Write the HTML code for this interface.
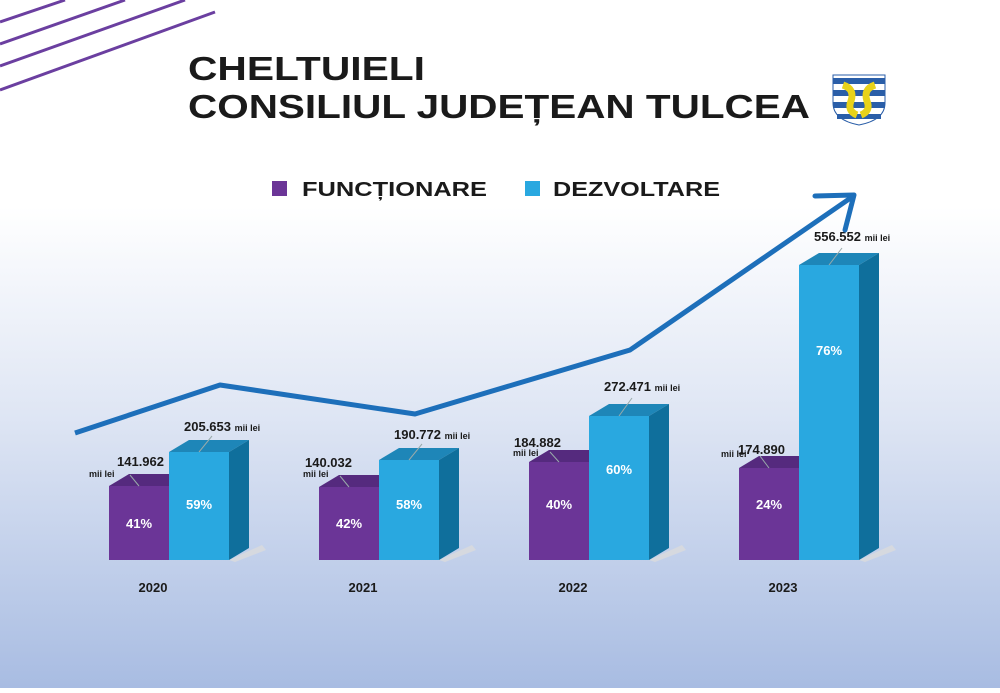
<!DOCTYPE html>
<html><head><meta charset="utf-8"><style>
body{margin:0;width:1000px;height:688px;overflow:hidden;font-family:"Liberation Sans","DejaVu Sans",sans-serif}
</style></head><body>
<svg width="1000" height="688" viewBox="0 0 1000 688" xmlns="http://www.w3.org/2000/svg" font-family="Liberation Sans, DejaVu Sans, sans-serif">
<defs>
<linearGradient id="bg" x1="0" y1="0" x2="0" y2="1">
<stop offset="0" stop-color="#ffffff"/><stop offset="0.3" stop-color="#ffffff"/>
<stop offset="0.6" stop-color="#dfe6f4"/><stop offset="1" stop-color="#a8bce2"/>
</linearGradient>
</defs>
<rect width="1000" height="688" fill="url(#bg)"/>
<g stroke="#6b3fa0" stroke-width="3">
<line x1="0" y1="22" x2="65" y2="0"/><line x1="0" y1="44" x2="125" y2="0"/>
<line x1="0" y1="66" x2="185" y2="0"/><line x1="0" y1="90" x2="215" y2="12"/>
</g>
<text x="188" y="80" font-size="33" font-weight="bold" fill="#1a1a1a" textLength="237" lengthAdjust="spacingAndGlyphs">CHELTUIELI</text>
<text x="188" y="118" font-size="33" font-weight="bold" fill="#1a1a1a" textLength="622" lengthAdjust="spacingAndGlyphs">CONSILIUL JUDEȚEAN TULCEA</text>
<g transform="translate(833,75)">
<path d="M0 0 H52 V28 Q52 45 26 50 Q0 45 0 28 Z" fill="#fff" stroke="#2a5ea8" stroke-width="1"/>
<rect x="0" y="3" width="52" height="6" fill="#2a5ea8"/><rect x="0" y="15" width="52" height="6" fill="#2a5ea8"/>
<rect x="0" y="27" width="52" height="6" fill="#2a5ea8"/><rect x="4" y="39" width="44" height="5" fill="#2a5ea8"/>
<path d="M10 10 Q22 14 18 26 Q14 36 24 40 M42 10 Q30 14 34 26 Q38 36 28 40" stroke="#e8d21a" stroke-width="7" fill="none"/>
</g>
<rect x="272" y="181" width="15" height="15" fill="#6b3597"/>
<text x="302" y="196" font-size="20" font-weight="bold" fill="#1a1a1a" textLength="185" lengthAdjust="spacingAndGlyphs">FUNCȚIONARE</text>
<rect x="525" y="181" width="15" height="15" fill="#29a8e0"/>
<text x="553" y="196" font-size="20" font-weight="bold" fill="#1a1a1a" textLength="167" lengthAdjust="spacingAndGlyphs">DEZVOLTARE</text>

<g fill="#d6d9df">
<polygon points="229,560 262,545 266,550 235,562"/>
<polygon points="439,560 472,545 476,550 445,562"/>
<polygon points="649,560 682,545 686,550 655,562"/>
<polygon points="859,560 892,545 896,550 865,562"/>
</g>
<g font-weight="bold">
<polygon points="109,486 129,474 189,474 169,486" fill="#552a7e"/>
<rect x="109" y="486" width="60" height="74" fill="#6b3597"/>
<polygon points="169,452 189,440 249,440 229,452" fill="#1e86b8"/>
<polygon points="229,452 249,440 249,548 229,560" fill="#0f6f9c"/>
<rect x="169" y="452" width="60" height="108" fill="#29a8e0"/>
<polygon points="319,487 339,475 399,475 379,487" fill="#552a7e"/>
<rect x="319" y="487" width="60" height="73" fill="#6b3597"/>
<polygon points="379,460 399,448 459,448 439,460" fill="#1e86b8"/>
<polygon points="439,460 459,448 459,548 439,560" fill="#0f6f9c"/>
<rect x="379" y="460" width="60" height="100" fill="#29a8e0"/>
<polygon points="529,462 549,450 609,450 589,462" fill="#552a7e"/>
<rect x="529" y="462" width="60" height="98" fill="#6b3597"/>
<polygon points="589,416 609,404 669,404 649,416" fill="#1e86b8"/>
<polygon points="649,416 669,404 669,548 649,560" fill="#0f6f9c"/>
<rect x="589" y="416" width="60" height="144" fill="#29a8e0"/>
<polygon points="739,468 759,456 819,456 799,468" fill="#552a7e"/>
<rect x="739" y="468" width="60" height="92" fill="#6b3597"/>
<polygon points="799,265 819,253 879,253 859,265" fill="#1e86b8"/>
<polygon points="859,265 879,253 879,548 859,560" fill="#0f6f9c"/>
<rect x="799" y="265" width="60" height="295" fill="#29a8e0"/>

<g fill="#fff" font-size="13" text-anchor="middle">
<text x="139" y="528">41%</text><text x="199" y="509">59%</text>
<text x="349" y="528">42%</text><text x="409" y="509">58%</text>
<text x="559" y="509">40%</text><text x="619" y="474">60%</text>
<text x="769" y="509">24%</text><text x="829" y="355">76%</text>
</g>
<g stroke="#9aa" stroke-width="1">
<line x1="199" y1="452" x2="212" y2="436"/><line x1="409" y1="460" x2="422" y2="444"/>
<line x1="619" y1="416" x2="632" y2="398"/><line x1="829" y1="265" x2="842" y2="248"/>
<line x1="139" y1="486" x2="130" y2="475"/><line x1="349" y1="487" x2="340" y2="476"/>
<line x1="559" y1="462" x2="550" y2="452"/><line x1="769" y1="468" x2="760" y2="456"/>
</g>
<g fill="#1a1a1a" font-size="13">
<text x="184" y="431">205.653 <tspan font-size="9">mii lei</tspan></text>
<text x="394" y="439">190.772 <tspan font-size="9">mii lei</tspan></text>
<text x="604" y="391">272.471 <tspan font-size="9">mii lei</tspan></text>
<text x="814" y="241">556.552 <tspan font-size="9">mii lei</tspan></text>
<text x="117" y="466">141.962</text><text x="89" y="477" font-size="9">mii lei</text>
<text x="305" y="467">140.032</text><text x="303" y="477" font-size="9">mii lei</text>
<text x="514" y="447">184.882</text><text x="513" y="456" font-size="9">mii lei</text>
<text x="738" y="454">174.890</text><text x="721" y="457" font-size="9">mii lei</text>
<text x="153" y="592" text-anchor="middle" font-size="13">2020</text>
<text x="363" y="592" text-anchor="middle" font-size="13">2021</text>
<text x="573" y="592" text-anchor="middle" font-size="13">2022</text>
<text x="783" y="592" text-anchor="middle" font-size="13">2023</text>
</g>
</g>
<polyline points="75,433 220,385 415,414 630,350 852,197" fill="none" stroke="#1d6fba" stroke-width="5" stroke-linejoin="round"/>
<polyline points="815,196 854,195 845,230" fill="none" stroke="#1d6fba" stroke-width="5" stroke-linecap="round" stroke-linejoin="round"/>
</svg>
</body></html>
